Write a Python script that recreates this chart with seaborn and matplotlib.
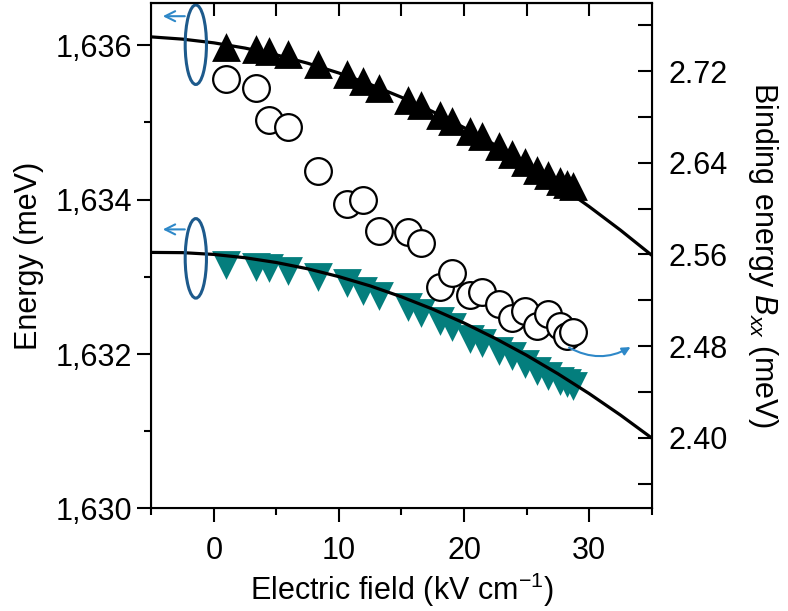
import matplotlib
matplotlib.use("Agg")
import pandas as pd
import seaborn as sns
import matplotlib.pyplot as plt
from matplotlib.patches import Ellipse
from matplotlib.ticker import MultipleLocator, FuncFormatter

# ------------ DATA ------------
field = [1.0, 3.4, 4.4, 5.9, 8.3, 10.65, 11.9, 13.2, 15.55, 16.55, 18.05,
         19.0, 20.5, 21.4, 22.8, 23.85, 24.9, 25.8, 26.75, 27.65, 28.2, 28.75]
energy_upper = [1635.977, 1635.955, 1635.925, 1635.881, 1635.751, 1635.622,
                1635.537, 1635.450, 1635.285, 1635.221, 1635.091, 1635.018,
                1634.889, 1634.819, 1634.689, 1634.595, 1634.488, 1634.388,
                1634.315, 1634.242, 1634.207, 1634.172]
energy_lower = [1633.152, 1633.124, 1633.108, 1633.078, 1632.992, 1632.916,
                1632.819, 1632.748, 1632.603, 1632.535, 1632.431, 1632.344,
                1632.198, 1632.146, 1632.042, 1631.978, 1631.871, 1631.784,
                1631.719, 1631.654, 1631.622, 1631.590]
binding = [2.7128, 2.7049, 2.6775, 2.6714, 2.6328, 2.6040, 2.6075, 2.5809,
           2.5792, 2.5696, 2.5319, 2.5436, 2.5247, 2.5269, 2.5168, 2.5044,
           2.5107, 2.4974, 2.5081, 2.4977, 2.4889, 2.4927]

# fitted curves, sampled along the drawn lines
fit_field = [-5, -2.5, 0, 2.5, 5, 7.5, 10, 12.5, 15, 17.5, 20, 22.5, 25,
             27.5, 30, 32.5, 35]
fit_upper = [1636.107, 1636.078, 1636.030, 1635.962, 1635.874, 1635.766,
             1635.639, 1635.492, 1635.325, 1635.139, 1634.932, 1634.706,
             1634.461, 1634.195, 1633.910, 1633.605, 1633.280]
fit_lower = [1633.316, 1633.313, 1633.290, 1633.247, 1633.185, 1633.104,
             1633.002, 1632.882, 1632.741, 1632.581, 1632.402, 1632.202,
             1631.984, 1631.745, 1631.488, 1631.210, 1630.913]
# -----------------------------------------------------

TEAL = "#047e7d"
DARK_BLUE = "#1d5a8c"
LIGHT_BLUE = "#2e88c8"
FS = 22

df = pd.DataFrame({"field": field, "upper": energy_upper,
                   "lower": energy_lower, "binding": binding})
fit = pd.DataFrame({"field": fit_field, "upper": fit_upper, "lower": fit_lower})

sns.set_style("ticks", {"text.color": "black", "axes.labelcolor": "black",
                        "xtick.color": "black", "ytick.color": "black",
                        "axes.edgecolor": "black"})
plt.rcParams["font.family"] = ["Liberation Sans", "DejaVu Sans"]
plt.rcParams["mathtext.fontset"] = "custom"
plt.rcParams["mathtext.rm"] = "Liberation Sans"
plt.rcParams["mathtext.it"] = "Liberation Sans:italic"

fig = plt.figure(figsize=(7.88, 6.11), dpi=100)
ax = fig.add_axes([0.1920, 0.1678, 0.6350, 0.8278])

sns.scatterplot(data=df, x="field", y="lower", marker="v", s=430, color=TEAL,
                linewidth=0, ax=ax, zorder=2)
sns.scatterplot(data=df, x="field", y="upper", marker="^", s=430, color="black",
                linewidth=0, ax=ax, zorder=2)
sns.lineplot(data=fit, x="field", y="upper", color="black", lw=2.3, ax=ax, zorder=3)
sns.lineplot(data=fit, x="field", y="lower", color="black", lw=2.3, ax=ax, zorder=3)

ax.set_xlim(-5, 35)
ax.set_ylim(1630, 1636.55)
ax.xaxis.set_major_locator(MultipleLocator(10))
ax.xaxis.set_minor_locator(MultipleLocator(5))
ax.yaxis.set_major_locator(MultipleLocator(2))
ax.yaxis.set_minor_locator(MultipleLocator(1))
ax.yaxis.set_major_formatter(FuncFormatter(lambda v, p: f"{v:,.0f}"))
ax.tick_params(axis="both", which="major", direction="out", length=10, width=1.5,
               labelsize=FS, pad=4)
ax.tick_params(axis="both", which="minor", direction="out", length=5, width=1.5)
ax.tick_params(axis="x", which="major", pad=10)
ax.set_xlabel(r"Electric field (kV cm$^{-1}$)", fontsize=FS, labelpad=3)
ax.set_ylabel("Energy (meV)", fontsize=FS, labelpad=8)
for s in ax.spines.values():
    s.set_linewidth(1.5)

top = ax.secondary_xaxis("top")
top.set_xticks([0, 5, 10, 15, 20, 25, 30])
top.tick_params(direction="in", length=9, width=1.5, labeltop=False)
top.spines["top"].set_linewidth(1.5)

# ellipses and arrows marking the left-axis curves
for yc, ya in [(1636.006, 1636.375), (1633.239, 1633.614)]:
    ax.add_patch(Ellipse((-1.44, yc), 1.7, 1.03, fill=False,
                         edgecolor=DARK_BLUE, lw=2.2, zorder=4))
    ax.annotate("", xy=(-4.3, ya), xytext=(-2.1, ya),
                arrowprops=dict(arrowstyle="->", color=LIGHT_BLUE, lw=1.5,
                                mutation_scale=18))

ax2 = ax.twinx()
sns.scatterplot(data=df, x="field", y="binding", marker="o", s=370,
                facecolor="white", edgecolor="black", linewidth=1.6, ax=ax2)
ax2.set_ylim(2.3385, 2.7796)
ax2.yaxis.set_major_locator(MultipleLocator(0.08))
ax2.yaxis.set_minor_locator(MultipleLocator(0.04))
ax2.yaxis.set_major_formatter(FuncFormatter(lambda v, p: f"{v:.2f}"))
ax2.tick_params(axis="y", which="both", direction="in", length=10, width=1.5,
                labelsize=FS, pad=12)
ax2.set_ylabel(r"Binding energy $B_{xx}$ (meV)", fontsize=FS, rotation=270,
               labelpad=38)
ax2.annotate("", xy=(33.5, 2.4805), xytext=(28.2, 2.4800),
             arrowprops=dict(arrowstyle="-|>", color=LIGHT_BLUE, lw=1.5,
                             mutation_scale=12,
                             connectionstyle="arc3,rad=0.3"))

fig.savefig("out.png", dpi=100)
